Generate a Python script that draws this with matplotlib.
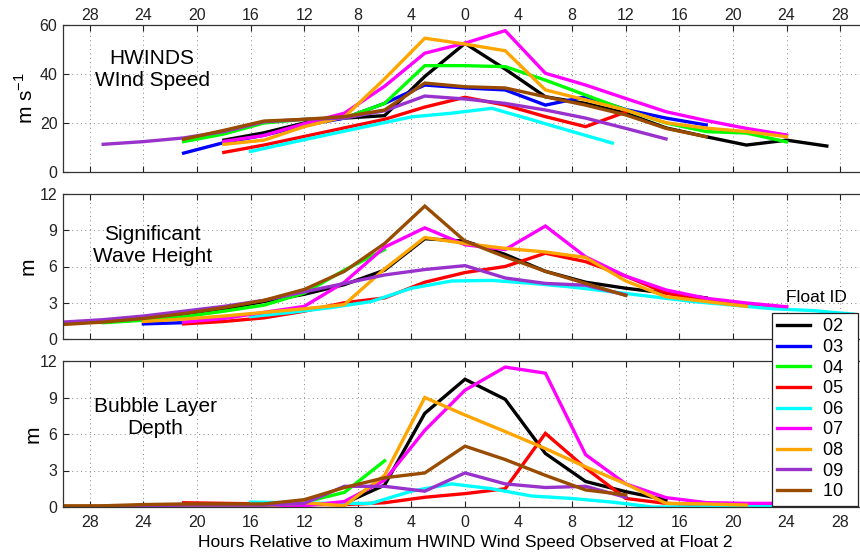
"""Wind speed, significant wave height and bubble layer depth at each float,
relative to the time of maximum HWIND wind speed at float 2."""

import matplotlib.pyplot as plt
from matplotlib.ticker import FuncFormatter, MultipleLocator

plt.rcParams["font.family"] = ["Liberation Sans", "DejaVu Sans"]

FLOAT_IDS = ["02", "03", "04", "05", "06", "07", "08", "09", "10"]
COLORS = ["#000000", "#0000ff", "#00ff00", "#ff0000", "#00ffff",
          "#ff00ff", "#ffa500", "#9932cc", "#994c00"]

# ── HWINDS wind speed (m/s) ──
wind_hours = {
    "02": [-18, -15, -12, -9, -6, -3, 0, 3, 6, 9, 12, 15, 18, 21, 24, 27],
    "03": [-21, -18, -15, -12, -9, -6, -3, 0, 3, 6, 9, 12, 15, 18],
    "04": [-21, -18, -15, -12, -9, -6, -3, 0, 3, 6, 9, 12, 15, 18, 21, 24],
    "05": [-18, -15, -12, -9, -6, -3, 0, 3, 6, 9, 12],
    "06": [-16, -13, -10, -7, -4, -1, 2, 5, 8, 11],
    "07": [-18, -15, -12, -9, -6, -3, 0, 3, 6, 9, 12, 15, 18, 21, 24],
    "08": [-18, -15, -12, -9, -6, -3, 0, 3, 6, 9, 12, 15, 18, 21, 24],
    "09": [-27, -24, -21, -18, -15, -12, -9, -6, -3, 0, 3, 6, 9, 12, 15],
    "10": [-21, -18, -15, -12, -9, -6, -3, 0, 3, 6, 9, 12, 15, 18],
}
wind_speed = {
    "02": [13, 16, 20, 22, 23, 39, 52.5, 42, 30.7, 28, 24, 18, 14.4, 11, 13, 10.6],
    "03": [7.7, 12, 15, 19, 22, 28, 35.5, 34.3, 33.5, 27.3, 30.7, 25.5, 22, 19.2],
    "04": [12.4, 15.5, 20, 21.5, 22, 28, 43.4, 43.4, 43, 37.5, 31.4, 25.3, 20, 16.5, 15.9, 12.3],
    "05": [8, 11, 14.5, 18, 21.5, 26.5, 30.5, 27.3, 22.6, 18.5, 24.5],
    "06": [8.4, 12, 15.5, 19, 22.5, 24, 26, 21.3, 16.5, 11.8],
    "07": [12.5, 14.9, 19.7, 24, 35, 48.5, 52.6, 57.7, 40.3, 35.5, 30, 24.6, 21, 17.8, 15.1],
    "08": [11.3, 13, 18.5, 22.5, 38, 54.6, 52.2, 49.5, 33.5, 29.4, 25.3, 20.1, 17.9, 16.5, 14.4],
    "09": [11.3, 12.4, 13.9, 16.5, 20.5, 21.5, 22, 25, 31, 29.8, 28, 25.3, 22, 17.8, 13.5],
    "10": [13.4, 17, 20.8, 21.5, 22.6, 25.3, 36.3, 34.8, 34.3, 30.7, 27.3, 23.3, 17.8, 14.4],
}

# ── significant wave height (m) ──
wave_hours = {
    "02": [-27, -24, -21, -18, -15, -12, -9, -6, -3, 0, 3, 6, 9, 12, 15, 18],
    "03": [-24, -21, -18],
    "04": [-27, -24, -21, -18, -15, -12, -9, -6],
    "05": [-21, -18, -15, -12, -9, -6, -3, 0, 3, 6, 9, 12, 15, 18, 21, 24],
    "06": [-16, -13, -10, -7, -4, -1, 2, 5, 8, 11, 14, 17, 20, 23, 26, 29],
    "07": [-21, -18, -15, -12, -9, -6, -3, 0, 3, 6, 9, 12, 15, 18, 21, 24],
    "08": [-24, -21, -18, -15, -12, -9, -6, -3, 0, 3, 6, 9, 12, 15, 18, 21],
    "09": [-30, -27, -24, -21, -18, -15, -12, -9, -6, -3, 0, 3, 6, 9, 12],
    "10": [-30, -27, -24, -21, -18, -15, -12, -9, -6, -3, 0, 3, 6, 9, 12],
}
wave_height = {
    "02": [1.4, 1.6, 2.0, 2.5, 3.1, 3.7, 4.5, 5.7, 8.3, 8.1, 7.0, 5.6, 4.7, 4.2, 3.8, 3.4],
    "03": [1.25, 1.35, 1.5],
    "04": [1.35, 1.55, 1.85, 2.3, 2.8, 3.8, 5.7, 7.4],
    "05": [1.25, 1.45, 1.75, 2.3, 3.0, 3.4, 4.7, 5.5, 6.0, 7.1, 6.4, 5.2, 3.8, 3.2, 2.8, 2.65],
    "06": [1.85, 2.2, 2.6, 3.1, 4.2, 4.8, 4.85, 4.6, 4.3, 3.9, 3.5, 3.1, 2.8, 2.5, 2.35, 2.05],
    "07": [1.4, 1.7, 2.2, 2.7, 4.7, 7.6, 9.2, 7.8, 7.4, 9.35, 6.8, 5.2, 4.06, 3.37, 2.98, 2.67],
    "08": [1.45, 1.65, 1.9, 2.2, 2.5, 2.85, 5.8, 8.4, 7.9, 7.5, 7.2, 6.75, 4.8, 3.5, 3.1, 2.7],
    "09": [1.4, 1.6, 1.9, 2.3, 2.7, 3.2, 3.9, 4.6, 5.3, 5.75, 6.07, 5.05, 4.6, 4.45, 3.64],
    "10": [1.2, 1.4, 1.7, 2.1, 2.6, 3.2, 4.1, 5.6, 7.9, 11.0, 8.1, 6.8, 5.6, 4.6, 3.6],
}

# ── bubble layer depth (m) ──
bubble_hours = {
    "02": [-27, -24, -21, -18, -15, -12, -9, -6, -3, 0, 3, 6, 9, 12, 15],
    "03": [-24, -21, -18, -15],
    "04": [-27, -24, -21, -18, -15, -12, -9, -6],
    "05": [-21, -18, -15, -12, -9, -6, -3, 0, 3, 6, 9, 12, 15, 18, 21, 24],
    "06": [-16, -13, -10, -7, -4, -1, 2, 5, 8, 11, 14, 17, 20, 23, 26, 29],
    "07": [-21, -18, -15, -12, -9, -6, -3, 0, 3, 6, 9, 12, 15, 18, 21, 24],
    "08": [-24, -21, -18, -15, -12, -9, -6, -3, 0, 3, 6, 9, 12, 15, 18, 21],
    "09": [-30, -27, -24, -21, -18, -15, -12, -9, -6, -3, 0, 3, 6, 9, 12],
    "10": [-30, -27, -24, -21, -18, -15, -12, -9, -6, -3, 0, 3, 6, 9, 12],
}
bubble_depth = {
    "02": [0.05, 0.1, 0.1, 0.1, 0.1, 0.2, 0.3, 1.8, 7.7, 10.5, 8.85, 4.4, 2.1, 1.26, 0.58],
    "03": [0.05, 0.0, 0.05, 0.05],
    "04": [0.0, 0.05, 0.1, 0.1, 0.15, 0.4, 1.2, 3.8],
    "05": [0.35, 0.3, 0.25, 0.2, 0.2, 0.35, 0.8, 1.1, 1.5, 6.05, 3.2, 0.7, 0.3, 0.15, 0.08, 0.05],
    "06": [0.4, 0.35, 0.3, 0.3, 1.3, 1.9, 1.5, 0.9, 0.7, 0.4, 0.0, 0.0, 0.05, 0.05, 0.05, 0.05],
    "07": [0.05, 0.05, 0.1, 0.1, 0.45, 2.2, 6.3, 9.6, 11.5, 11.0, 4.3, 1.9, 0.77, 0.36, 0.3, 0.3],
    "08": [0.05, 0.05, 0.0, 0.1, 0.35, 0.1, 2.6, 9.0, 7.56, 6.2, 4.8, 3.3, 1.9, 0.3, 0.25, 0.16],
    "09": [0.0, 0.05, 0.1, 0.15, 0.15, 0.15, 0.3, 1.7, 1.7, 1.3, 2.8, 1.9, 1.6, 1.7, 0.8],
    "10": [0.1, 0.1, 0.2, 0.25, 0.25, 0.25, 0.6, 1.6, 2.4, 2.8, 5.0, 3.9, 2.6, 1.4, 1.0],
}

X_TICKS = list(range(-28, 29, 4))

W, H = 860, 558
fig = plt.figure(figsize=(W / 100, H / 100), dpi=100)

# axes boxes in pixels: (left, top, right, bottom) -- right edge runs past the image
boxes = [(63, 25, 867, 172), (63, 194, 867, 339), (63, 361, 867, 507)]
axes = [fig.add_axes([l / W, 1 - b / H, (r - l) / W, (b - t) / H]) for l, t, r, b in boxes]

panels = [
    (wind_hours, wind_speed, (0, 60), 20, r"m s$^{\mathregular{-1}}$", "HWINDS\nWInd Speed", (0.111, 0.70)),
    (wave_hours, wave_height, (0, 12), 3, "m", "Significant\nWave Height", (0.111, 0.645)),
    (bubble_hours, bubble_depth, (0, 12), 3, "m", "Bubble Layer\nDepth", (0.115, 0.615)),
]

lines = []
for i, (ax, (hours, vals, ylim, ystep, ylabel, title, tpos)) in enumerate(zip(axes, panels)):
    for fid, color in zip(FLOAT_IDS, COLORS):
        (ln,) = ax.plot(hours[fid], vals[fid], color=color, lw=2.4, solid_joinstyle="miter",
                        label=fid)
        if i == 0:
            lines.append(ln)
    ax.set_xlim(-30, 30)
    ax.set_ylim(*ylim)
    ax.yaxis.set_major_locator(MultipleLocator(ystep))
    ax.set_xticks(X_TICKS)
    ax.xaxis.set_major_formatter(FuncFormatter(lambda v, p: f"{abs(v):g}"))
    ax.grid(True, color="#888888", lw=0.7, linestyle=(0, (1, 3.5)))
    ax.tick_params(direction="in", length=4, width=0.8, top=True, right=True,
                   labelsize=11.5, colors="#222222", pad=4)
    for s in ax.spines.values():
        s.set_color("#333333")
        s.set_linewidth(0.9)
    ax.set_ylabel(ylabel, fontsize=15)
    ax.text(tpos[0], tpos[1], title, transform=ax.transAxes, ha="center", va="center",
            fontsize=15, linespacing=1.2)

axes[0].tick_params(axis="x", labeltop=True, labelbottom=False, pad=1.5)
axes[1].tick_params(labelbottom=False)
axes[2].tick_params(axis="x", pad=6)
axes[0].yaxis.set_label_coords(-0.033, 0.5)
axes[1].yaxis.set_label_coords(-0.032, 0.5)
axes[2].yaxis.set_label_coords(-0.026, 0.5)
axes[2].set_xlabel("Hours Relative to Maximum HWIND Wind Speed Observed at Float 2",
                   fontsize=12.5, labelpad=3)

# trailing space in the labels gives the frame the wider right margin of the original
leg = fig.legend(handles=lines, labels=[f"{fid}  " for fid in FLOAT_IDS], loc="upper left",
                 bbox_to_anchor=(772 / W, 1 - 313 / H), fontsize=13,
                 handlelength=1.8, handletextpad=0.7, labelspacing=0.2,
                 borderpad=0.3, borderaxespad=0, fancybox=False, framealpha=1)
leg.get_frame().set_edgecolor("#222222")
leg.get_frame().set_linewidth(0.9)
fig.text(816 / W, 1 - 302 / H, "Float ID", ha="center", va="baseline", fontsize=12.5)

fig.savefig("out.png", dpi=100)
